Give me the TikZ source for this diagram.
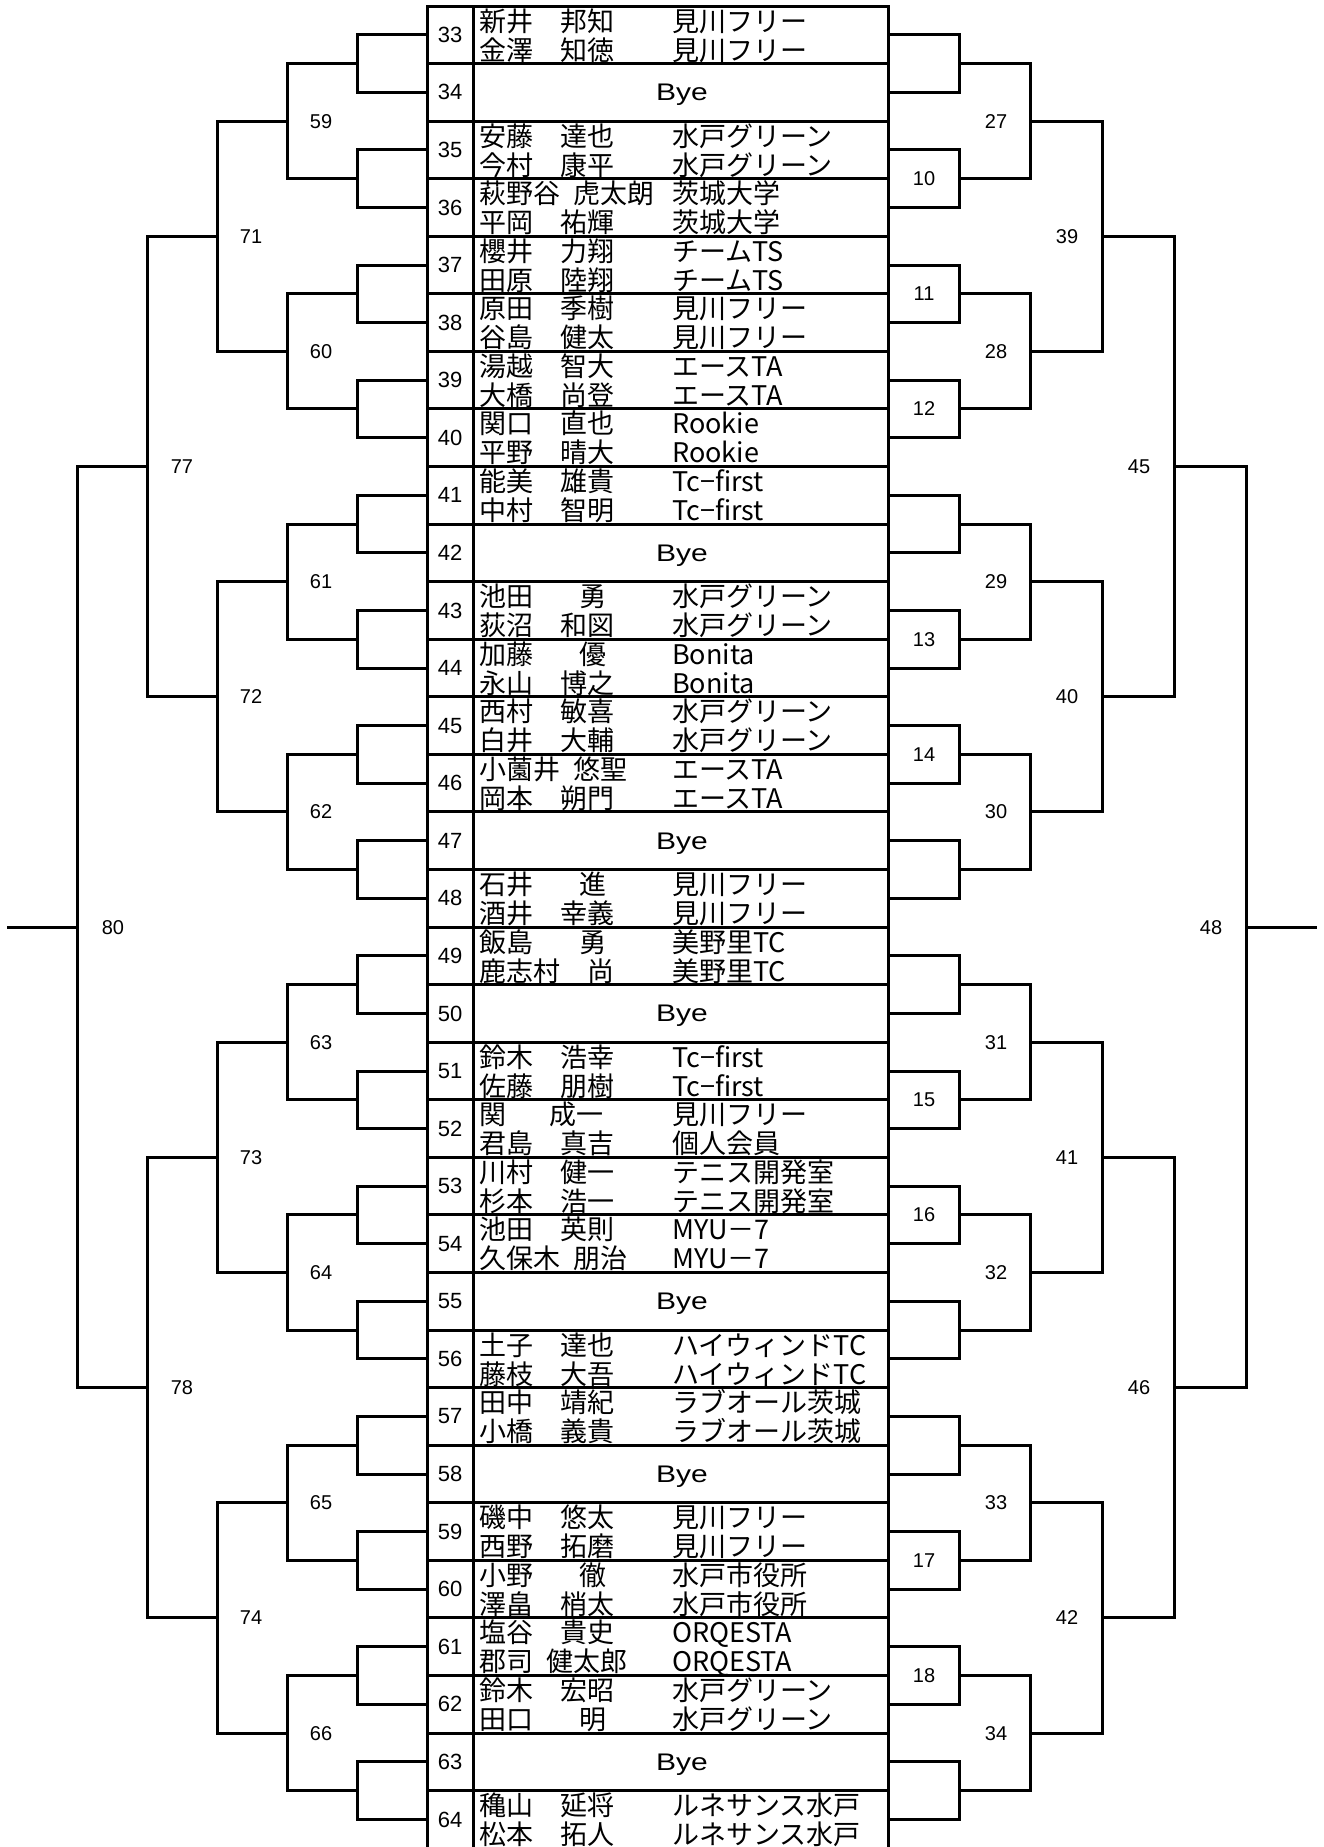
\documentclass[tikz,border=0pt]{standalone}
\usepackage{fontspec}
\usepackage{graphicx}
\setmainfont{Noto Sans CJK JP}
\newfontfamily\numfont{Liberation Sans}

\tikzset{
  ln/.style={line width=3pt, line join=miter},
  nm/.style={anchor=base west, inner sep=0pt, font=\fontsize{27}{27}\selectfont},
  tnum/.style={anchor=center, inner sep=0pt, font=\numfont\fontsize{22}{22}\selectfont},
  lbl/.style={anchor=center, inner sep=0pt, font=\numfont\fontsize{20}{20}\selectfont},
  byest/.style={anchor=base, inner sep=0pt, font=\numfont\fontsize{24}{24}\selectfont},
}

% #1 row index (0-based), #2 number, #3/#4 names, #5/#6 clubs
\newcommand\prow[6]{%
  \node[tnum] (num#2) at (450,{6+57.57*(#1+0.5)}) {#2};
  \node[nm] (na#2) at (479,{6+57.57*#1+25}) {#3};
  \node[nm] (nb#2) at (479,{6+57.57*#1+54}) {#4};
  \node[nm] (ca#2) at (672,{6+57.57*#1+25}) {#5};
  \node[nm] (cb#2) at (672,{6+57.57*#1+54}) {#6};
}
\newcommand\byerow[2]{%
  \node[tnum] (num#2) at (450,{6+57.57*(#1+0.5)}) {#2};
  \node[byest] (bye#2) at (682,{6+57.57*(#1+0.5)+8.5}) {\scalebox{1.25}[1]{Bye}};
}

\begin{document}
\begin{tikzpicture}[x=1pt,y=-1pt]
\useasboundingbox (0,0) rectangle (1324,1847);
\fill[white] (0,0) rectangle (1324,1847);

% ---------- table ----------
\draw[ln] (427,6) rectangle (888,1848);
\draw[ln] (473,6) -- (473,1848);
\foreach \i in {1,...,31}{
  \draw[ln] (427,{6+57.57*\i}) -- (888,{6+57.57*\i});
}

% ---------- coordinates ----------
\foreach \i in {0,...,31}{
  \coordinate (TL\i) at (427,{6+57.57*(\i+0.5)});
  \coordinate (TR\i) at (888,{6+57.57*(\i+0.5)});
}
\foreach \k in {0,...,15}{
  \coordinate (AL1-\k) at (357,{6+57.57*(2*\k+1)});
  \coordinate (AR1-\k) at (959,{6+57.57*(2*\k+1)});
}
\foreach \k in {0,...,7}{
  \coordinate (AL2-\k) at (287,{6+57.57*(4*\k+2)});
  \coordinate (AR2-\k) at (1030,{6+57.57*(4*\k+2)});
}
\foreach \k in {0,...,3}{
  \coordinate (AL3-\k) at (217,{6+57.57*(8*\k+4)});
  \coordinate (AR3-\k) at (1102,{6+57.57*(8*\k+4)});
}
\foreach \k in {0,1}{
  \coordinate (AL4-\k) at (147,{6+57.57*(16*\k+8)});
  \coordinate (AR4-\k) at (1174,{6+57.57*(16*\k+8)});
}
\coordinate (AL5-0) at (77,{6+57.57*16});
\coordinate (AR5-0) at (1246,{6+57.57*16});
\coordinate (EL) at (7,{6+57.57*16});
\coordinate (ER) at (1317,{6+57.57*16});

% ---------- bracket lines ----------
\foreach \k in {0,...,15}{
  \pgfmathtruncatemacro\a{2*\k}\pgfmathtruncatemacro\b{2*\k+1}
  \draw[ln] (TL\a) -| (AL1-\k) |- (TL\b);
  \draw[ln] (TR\a) -| (AR1-\k) |- (TR\b);
}
\foreach \k in {0,...,7}{
  \pgfmathtruncatemacro\a{2*\k}\pgfmathtruncatemacro\b{2*\k+1}
  \draw[ln] (AL1-\a) -| (AL2-\k) |- (AL1-\b);
  \draw[ln] (AR1-\a) -| (AR2-\k) |- (AR1-\b);
}
\foreach \k in {0,...,3}{
  \pgfmathtruncatemacro\a{2*\k}\pgfmathtruncatemacro\b{2*\k+1}
  \draw[ln] (AL2-\a) -| (AL3-\k) |- (AL2-\b);
  \draw[ln] (AR2-\a) -| (AR3-\k) |- (AR2-\b);
}
\foreach \k in {0,1}{
  \pgfmathtruncatemacro\a{2*\k}\pgfmathtruncatemacro\b{2*\k+1}
  \draw[ln] (AL3-\a) -| (AL4-\k) |- (AL3-\b);
  \draw[ln] (AR3-\a) -| (AR4-\k) |- (AR3-\b);
}
\draw[ln] (AL4-0) -| (AL5-0) |- (AL4-1);
\draw[ln] (AR4-0) -| (AR5-0) |- (AR4-1);
\draw[ln] (AL5-0) -- (EL);
\draw[ln] (AR5-0) -- (ER);

% ---------- match labels ----------
\foreach \k/\t in {0/59,1/60,2/61,3/62,4/63,5/64,6/65,7/66}{
  \node[lbl] (ml2-\k) at (321,{6+57.57*(4*\k+2)}) {\t};
}
\foreach \k/\t in {0/71,1/72,2/73,3/74}{
  \node[lbl] (ml3-\k) at (251,{6+57.57*(8*\k+4)}) {\t};
}
\foreach \k/\t in {0/77,1/78}{
  \node[lbl] (ml4-\k) at (182,{6+57.57*(16*\k+8)}) {\t};
}
\node[lbl] (ml5) at (113,{6+57.57*16}) {80};

\foreach \k/\t in {1/10,2/11,3/12,5/13,6/14,9/15,10/16,13/17,14/18}{
  \node[lbl] (mr1-\k) at (924,{6+57.57*(2*\k+1)}) {\t};
}
\foreach \k/\t in {0/27,1/28,2/29,3/30,4/31,5/32,6/33,7/34}{
  \node[lbl] (mr2-\k) at (996,{6+57.57*(4*\k+2)}) {\t};
}
\foreach \k/\t in {0/39,1/40,2/41,3/42}{
  \node[lbl] (mr3-\k) at (1067,{6+57.57*(8*\k+4)}) {\t};
}
\foreach \k/\t in {0/45,1/46}{
  \node[lbl] (mr4-\k) at (1139,{6+57.57*(16*\k+8)}) {\t};
}
\node[lbl] (mr5) at (1211,{6+57.57*16}) {48};

% ---------- players ----------
\prow{0}{33}{新井　邦知}{金澤　知徳}{見川フリー}{見川フリー}
\byerow{1}{34}
\prow{2}{35}{安藤　達也}{今村　康平}{水戸グリーン}{水戸グリーン}
\prow{3}{36}{萩野谷\hspace{0.5em}虎太朗}{平岡　祐輝}{茨城大学}{茨城大学}
\prow{4}{37}{櫻井　力翔}{田原　陸翔}{チームTS}{チームTS}
\prow{5}{38}{原田　季樹}{谷島　健太}{見川フリー}{見川フリー}
\prow{6}{39}{湯越　智大}{大橋　尚登}{エースTA}{エースTA}
\prow{7}{40}{関口　直也}{平野　晴大}{Rookie}{Rookie}
\prow{8}{41}{能美　雄貴}{中村　智明}{Tc−first}{Tc−first}
\byerow{9}{42}
\prow{10}{43}{池田\hspace{1.7em}勇}{荻沼　和図}{水戸グリーン}{水戸グリーン}
\prow{11}{44}{加藤\hspace{1.7em}優}{永山　博之}{Bonita}{Bonita}
\prow{12}{45}{西村　敏喜}{白井　大輔}{水戸グリーン}{水戸グリーン}
\prow{13}{46}{小薗井\hspace{0.5em}悠聖}{岡本　朔門}{エースTA}{エースTA}
\byerow{14}{47}
\prow{15}{48}{石井\hspace{1.7em}進}{酒井　幸義}{見川フリー}{見川フリー}
\prow{16}{49}{飯島\hspace{1.7em}勇}{鹿志村　尚}{美野里TC}{美野里TC}
\byerow{17}{50}
\prow{18}{51}{鈴木　浩幸}{佐藤　朋樹}{Tc−first}{Tc−first}
\prow{19}{52}{関\hspace{1.6em}成一}{君島　真吉}{見川フリー}{個人会員}
\prow{20}{53}{川村　健一}{杉本　浩一}{テニス開発室}{テニス開発室}
\prow{21}{54}{池田　英則}{久保木\hspace{0.5em}朋治}{MYU－7}{MYU－7}
\byerow{22}{55}
\prow{23}{56}{土子　達也}{藤枝　大吾}{ハイウィンドTC}{ハイウィンドTC}
\prow{24}{57}{田中　靖紀}{小橋　義貴}{ラブオール茨城}{ラブオール茨城}
\byerow{25}{58}
\prow{26}{59}{磯中　悠太}{西野　拓磨}{見川フリー}{見川フリー}
\prow{27}{60}{小野\hspace{1.7em}徹}{澤畠　梢太}{水戸市役所}{水戸市役所}
\prow{28}{61}{塩谷　貴史}{郡司\hspace{0.5em}健太郎}{ORQESTA}{ORQESTA}
\prow{29}{62}{鈴木　宏昭}{田口\hspace{1.7em}明}{水戸グリーン}{水戸グリーン}
\byerow{30}{63}
\prow{31}{64}{穐山　延将}{松本　拓人}{ルネサンス水戸}{ルネサンス水戸}

\end{tikzpicture}
\end{document}
